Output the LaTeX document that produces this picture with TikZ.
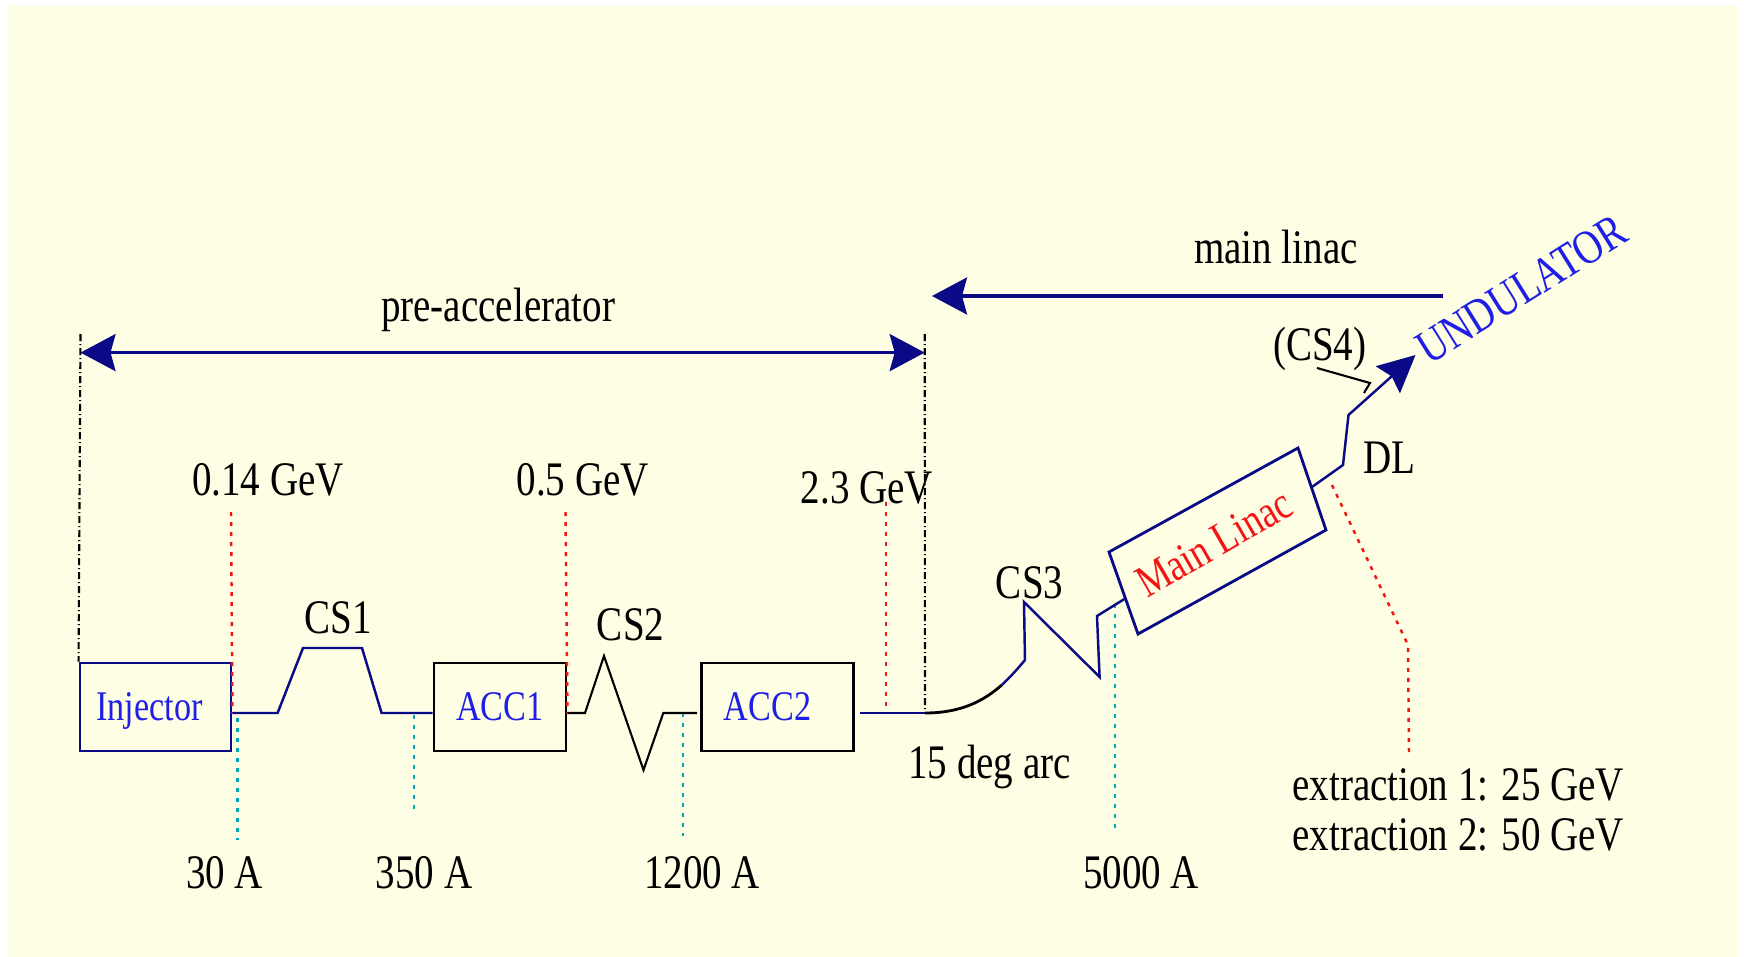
\documentclass[tikz,border=0pt]{standalone}
\usepackage{fontspec}
\setmainfont{Liberation Serif}[FakeStretch=0.81]
\usetikzlibrary{arrows.meta,calc}
\definecolor{bgyellow}{RGB}{254,254,228}
\definecolor{navy}{RGB}{10,10,135}
\definecolor{tblue}{RGB}{30,30,230}
\definecolor{dred}{RGB}{245,20,20}
\definecolor{dcyan}{RGB}{0,170,180}
\begin{document}
\begin{tikzpicture}[x=0.01cm,y=-0.01cm,
  lbl/.style={font=\fontsize{13.7}{14}\selectfont, inner sep=0pt, anchor=base, text=black},
  boxnode/.style={draw, line width=0.8pt, inner sep=0pt, text depth=0pt, minimum height=0.88cm, font=\fontsize{12}{13}\selectfont, text=tblue},
  beam/.style={draw=navy, line width=0.7pt},
  csblack/.style={draw=black, line width=0.6pt},
  reddot/.style={draw=dred, line width=0.7pt, dash pattern=on 0.04cm off 0.06cm},
  cyandot/.style={draw=dcyan, line width=0.7pt, dash pattern=on 0.04cm off 0.06cm},
  dashdot/.style={draw=black, line width=0.6pt, dash pattern=on 0.07cm off 0.03cm on 0.01cm off 0.03cm},
  bigtip/.style={line width=0.9pt, draw=navy},
]
\useasboundingbox (0,0) rectangle (1744,957);
\fill[white] (0,0) rectangle (1744,957);
\fill[bgyellow] (7,6) rectangle (1737,957);

% boxes
\node[boxnode, draw=navy, minimum width=1.51cm] (inj) at (155.5,707) {Injector\rule{0.12cm}{0pt}};
\node[boxnode, draw=black, minimum width=1.32cm] (acc1) at (500,707) {ACC1};
\node[boxnode, draw=black, minimum width=1.52cm] (acc2) at (777.5,707) {ACC2\rule{0.2cm}{0pt}};

% coordinates
\coordinate (bl) at (0,713);
\coordinate (cs2end) at (697,713);
\coordinate (acc2out) at (860,713);
\coordinate (arcstart) at (925,713);
\coordinate (arcmid) at (1001.8,685);
\coordinate (arcend) at (1025,660);
\coordinate (mlin) at (1126,598);
\coordinate (mlA) at (1109,552);
\coordinate (mlB) at (1298,448);
\coordinate (mlC) at (1326,530);
\coordinate (mlD) at (1138,634);
\coordinate (mlout) at (1312,487);
\coordinate (undtip) at (1415.5,355);
\coordinate (preL) at (80.5,352.6);
\coordinate (preR) at (924.7,352.6);
\coordinate (mainR) at (1443,296);
\coordinate (mainL) at (932,296);

% dash-dot extent lines
\draw[dashdot] (80.5,334) -- (inj.north west);
\draw[dashdot] (924.7,334) -- (arcstart);

% range arrows
\draw[bigtip, {Stealth[length=0.35cm,width=0.37cm,inset=0.05cm]}-{Stealth[length=0.35cm,width=0.37cm,inset=0.05cm]}] (preL) -- (preR);
\draw[bigtip, -{Stealth[length=0.35cm,width=0.37cm,inset=0.05cm]}] (mainR) -- (mainL);

% energy markers (red dotted)
\draw[reddot] (231,512) -- (inj.east |- bl);
\draw[reddot] (565.5,512) -- (acc1.east |- bl);
\draw[reddot] (886,502) -- (886,713);

% current markers (cyan dotted)
\draw[cyandot] (237.6,718) -- (237.6,840);
\draw[cyandot] (414,715) -- (414,815);
\draw[cyandot] (683,713) -- (683,836);
\draw[cyandot] (1115,604) -- (1115,830);

% beam line
\draw[beam] (inj.east |- bl) -- (277.6,713) -- (303,648) -- (362,648) -- (381.6,713) -- (acc1.west |- bl);
\draw[csblack] (acc1.east |- bl) -- (585,713) -- (604,656) -- (643.5,770) -- (663.3,713) -- (cs2end);
\draw[beam] (acc2out) -- (arcstart);
\draw[csblack, line width=0.8pt] (arcstart) .. controls (960,713) and (982.75,701.73) .. (arcmid);
\draw[beam] (arcmid) .. controls (1010,677.4) and (1017.5,669) .. (arcend) -- (1024,602) -- (1099.6,677) -- (1097,616) -- (mlin);

% main linac
\draw[navy, line width=0.8pt] (mlA) -- (mlB) -- (mlC) -- (mlD) -- cycle;
\node[font=\fontsize{13}{14}\selectfont, text=dred, rotate=30, inner sep=0pt] (mltext) at (1214,543) {Main Linac};
\draw[beam, -{Stealth[length=0.37cm,width=0.36cm,inset=0.05cm]}] (mlout) -- (1343,465) -- (1348.5,415) -- (undtip);

% CS4 leader
\draw[csblack] (1317,368) -- (1370,383) -- (1364,393);

% extraction marker
\draw[reddot] (1332,485) -- (1408,645) -- (1409,752);

% labels
\node[lbl] (tpre) at (498,321) {pre-accelerator};
\node[lbl] (tmain) at (1276,263) {main linac};
\node[lbl] (e1) at (268,495) {0.14 GeV};
\node[lbl] (e2) at (582.7,495) {0.5 GeV};
\node[lbl] (e3) at (867,503) {2.3 GeV};
\node[lbl] (cs1) at (338.5,633) {CS1};
\node[lbl] (cs2) at (630.6,640) {CS2};
\node[lbl] (cs3) at (1029.6,598) {CS3};
\node[lbl] (arc) at (989.5,778) {15 deg arc};
\node[lbl] (i1) at (224.5,888) {30 A};
\node[lbl] (i2) at (424,888) {350 A};
\node[lbl] (i3) at (702,888) {1200 A};
\node[lbl] (i4) at (1141,888) {5000 A};
\node[lbl] (dl) at (1389.7,473) {DL};
\node[lbl] (cs4) at (1319.8,360) {(CS4)};
\node[lbl, anchor=base west] (ex1) at (1291.7,800) {extraction 1: 25 GeV};
\node[lbl, anchor=base west] (ex2) at (1291.7,850) {extraction 2: 50 GeV};
\node[lbl, text=tblue, rotate=32] (und) at (1530,302.5) {UNDULATOR};
\end{tikzpicture}
\end{document}
